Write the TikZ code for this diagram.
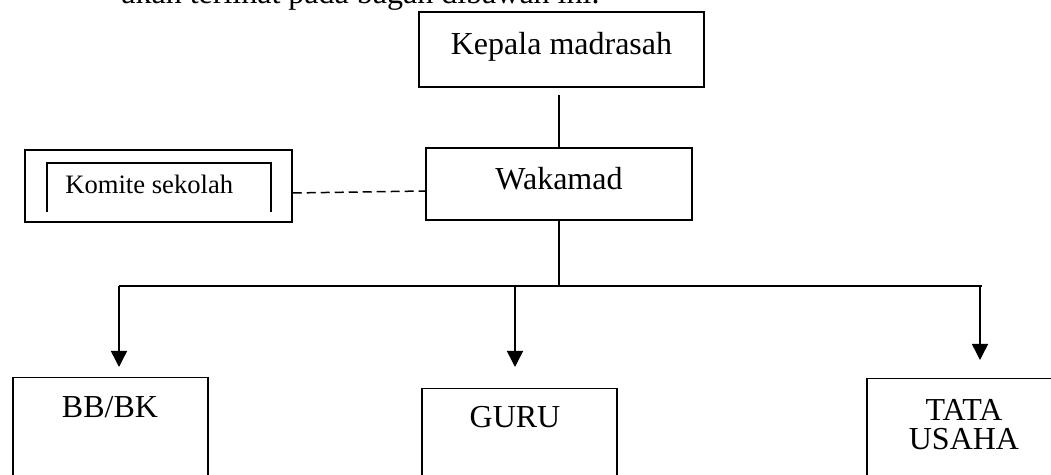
\documentclass[tikz,border=0pt]{standalone}
\usepackage{fontspec}
\setmainfont{Liberation Serif}
\usetikzlibrary{arrows.meta, positioning}

\begin{document}
\begin{tikzpicture}[x=0.5pt, y=-0.5pt,
    box/.style={draw, line width=0.75pt, inner sep=0pt, font=\fontsize{16}{19}\selectfont,
        text height=11pt, text depth=5.5pt},
    lbl/.style={inner sep=0pt, font=\fontsize{16}{19}\selectfont},
    smalllbl/.style={inner sep=0pt, font=\fontsize{13.3}{16}\selectfont},
    line/.style={line width=0.75pt},
    arrow/.style={line width=0.75pt, -{Triangle[width=8pt, length=8pt]}}]

    \path[use as bounding box, clip] (0,0) rectangle (1051,475);

    % Text above the chart
    \node[lbl, anchor=base west] (intro) at (121,4) {akan terlihat pada bagan dibawah ini.};

    % Kepala madrasah
    \node[box, minimum width=142.5pt, minimum height=37.5pt] (kepala) at (561.5,49.5) {Kepala madrasah};

    % Wakamad
    \node[box, minimum width=133pt, minimum height=36pt] (wakamad) at (559,184) {Wakamad};
    \draw[line, shorten >=3.5pt] (wakamad.north) -- (wakamad.north |- kepala.south);

    % Komite sekolah
    \node[box, minimum width=133.5pt, minimum height=36pt] (komite) at (158.5,186) {};
    \draw[line] (47,212) |- (271,163) -- (271,212);
    \node[smalllbl, anchor=base west] (komitetext) at (65,194) {Komite sekolah};
    \draw[line, dash pattern=on 4.5pt off 2.5pt] ([yshift=-3.5pt]komite.east) -- ([yshift=-3.5pt]wakamad.west);

    % Bottom boxes
    \node[box, anchor=north west, minimum width=97.5pt, minimum height=65pt] (bbbk) at (12,377) {};
    \node[lbl, anchor=base] (bbbktext) at (110,418) {BB/BK};
    \node[box, anchor=north west, minimum width=97.5pt, minimum height=65pt] (guru) at (421,388) {};
    \node[lbl, anchor=base] (gurutext) at (515,428) {GURU};
    \node[box, anchor=north west, minimum width=100pt, minimum height=65pt] (tu) at (866,378) {};
    \node[lbl, anchor=base] (tatatext) at (964,421) {TATA};
    \node[lbl, anchor=base] (usahatext) at (964,450) {USAHA};

    % Bar and arrows
    \coordinate (hub) at (wakamad.south |- 0,286);
    \coordinate (barl) at (119,286);
    \coordinate (barm) at (515,286);
    \coordinate (barr) at (980,286);
    \coordinate (barend) at (982,286);
    \draw[line] (wakamad.south) -- (hub);
    \draw[line] (barl) -- (barend);
    \draw[arrow, shorten >=5pt] (barl) -- (barl |- bbbk.north);
    \draw[arrow, shorten >=10.5pt] (barm) -- (barm |- guru.north);
    \draw[arrow, shorten >=9pt] (barr) -- (barr |- tu.north);
\end{tikzpicture}
\end{document}
